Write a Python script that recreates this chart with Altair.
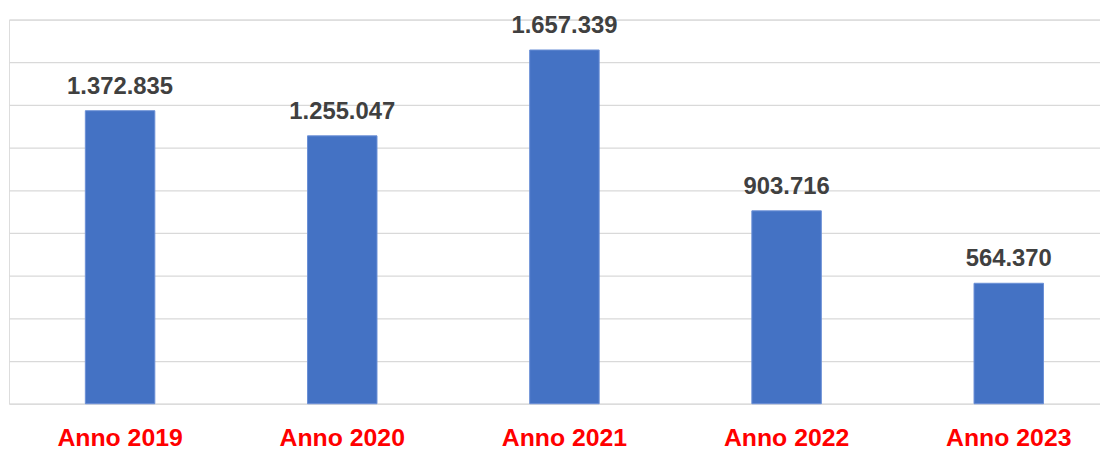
import altair as alt
import pandas as pd

categories = ["Anno 2019", "Anno 2020", "Anno 2021", "Anno 2022", "Anno 2023"]
values = [1372835, 1255047, 1657339, 903716, 564370]
labels = [f"{v:,}".replace(",", ".") for v in values]
y_ticks = list(range(0, 1800001, 200000))

df = pd.DataFrame({"cat": categories, "val": values, "lab": labels})

x = alt.X("cat:N", sort=categories, title=None,
          scale=alt.Scale(paddingInner=0, paddingOuter=0, range=[0, 1119]),
          axis=alt.Axis(labelAngle=0, ticks=False, domain=False, labelPadding=22,
                        labelFont="Liberation Sans", labelFontSize=25,
                        labelFontWeight="bold", labelColor="#FF0000"))
y = alt.Y("val:Q", title=None,
          scale=alt.Scale(domain=[0, 1800000], nice=False),
          axis=alt.Axis(values=y_ticks, labels=False, ticks=False, domain=False,
                        grid=True, gridColor="#D9D9D9", gridWidth=1.3))

bars = alt.Chart(df).mark_bar(size=70, color="#4472C4", stroke="#6B8FD6", strokeWidth=1).encode(x=x, y=y)
text = alt.Chart(df).mark_text(dy=-17, baseline="alphabetic", font="Liberation Sans",
                               fontSize=24, fontWeight="bold", color="#404040").encode(
    x=x, y=y, text="lab:N")

chart = (bars + text).properties(
    width=1099, height=387,
    autosize=alt.AutoSizeParams(type="none"),
    padding={"left": 1, "top": 10, "right": 0, "bottom": 48},
).configure_view(stroke=None).configure(background="white")

chart.save("out.html", embed_options={"renderer": "svg", "actions": False})
